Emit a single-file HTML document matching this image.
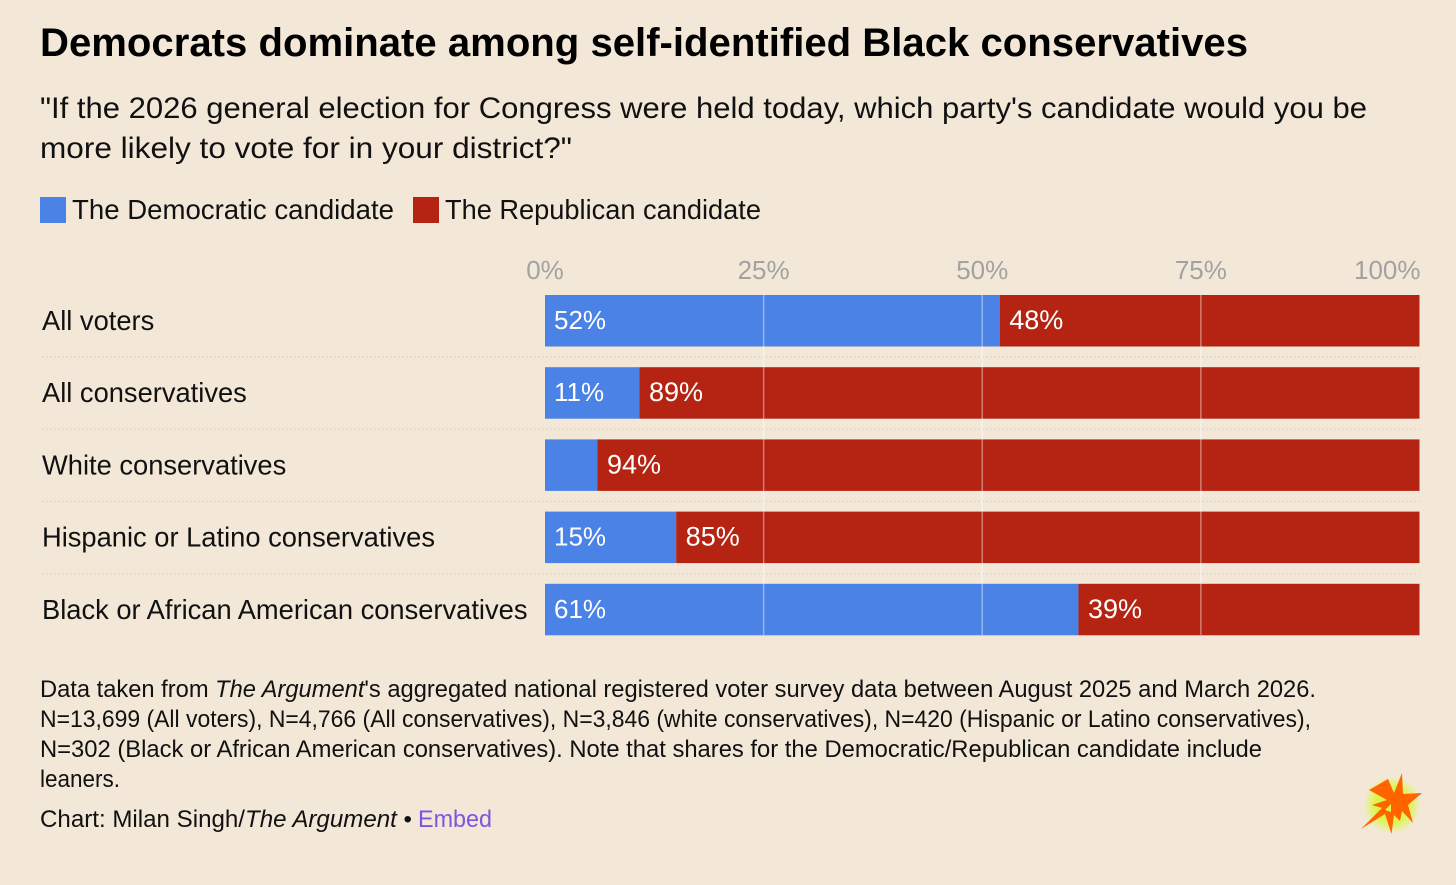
<!DOCTYPE html>
<html><head><meta charset="utf-8">
<style>
html,body{margin:0;padding:0;background:#f3e8d8}
svg{display:block}
text{font-family:"Liberation Sans",sans-serif;fill:#111}
.foot{font-size:24px}
</style></head>
<body>
<svg id="root" width="1456" height="885" viewBox="0 0 1456 885" xmlns="http://www.w3.org/2000/svg">
<defs><radialGradient id="glow"><stop offset="0" stop-color="#d4f52a"/><stop offset="0.6" stop-color="#dcf550"/><stop offset="1" stop-color="#f3e8d8"/></radialGradient></defs>
<rect width="1456" height="885" fill="#f3e8d8"/>
<text x="40" y="56" font-size="40" font-weight="700" textLength="1208" lengthAdjust="spacingAndGlyphs" style="font-size:40px;font-weight:700;fill:#000">Democrats dominate among self-identified Black conservatives</text>
<text x="40" y="118" style="font-size:30px" textLength="1327" lengthAdjust="spacingAndGlyphs">"If the 2026 general election for Congress were held today, which party's candidate would you be</text>
<text x="40" y="158" style="font-size:30px" textLength="532" lengthAdjust="spacingAndGlyphs">more likely to vote for in your district?"</text>
<rect x="40" y="197" width="26" height="26" fill="#4a82e6"/>
<text x="72" y="219" style="font-size:28px" textLength="322" lengthAdjust="spacingAndGlyphs">The Democratic candidate</text>
<rect x="413" y="197" width="26" height="26" fill="#b52412"/>
<text x="445" y="219" style="font-size:28px" textLength="316" lengthAdjust="spacingAndGlyphs">The Republican candidate</text>
<g id="plot"></g>
<text class="foot" x="40" y="697" textLength="1276" lengthAdjust="spacingAndGlyphs">Data taken from <tspan font-style="italic">The Argument</tspan>'s aggregated national registered voter survey data between August 2025 and March 2026.</text>
<text class="foot" x="40" y="727" textLength="1271" lengthAdjust="spacingAndGlyphs">N=13,699 (All voters), N=4,766 (All conservatives), N=3,846 (white conservatives), N=420 (Hispanic or Latino conservatives),</text>
<text class="foot" x="40" y="757" textLength="1222" lengthAdjust="spacingAndGlyphs">N=302 (Black or African American conservatives). Note that shares for the Democratic/Republican candidate include</text>
<text class="foot" x="40" y="787" textLength="80" lengthAdjust="spacingAndGlyphs">leaners.</text>
<text class="foot" x="40" y="827" textLength="372" lengthAdjust="spacingAndGlyphs">Chart: Milan Singh/<tspan font-style="italic">The Argument</tspan> •</text>
<text class="foot" x="418" y="827" textLength="74" lengthAdjust="spacingAndGlyphs" style="fill:#7f55e0;cursor:pointer">Embed</text>
<g>
<circle cx="1392" cy="805" r="29" fill="url(#glow)"/>
<polygon fill="#ff6400" points="1388,779 1394,793 1402,773 1403,794 1422,793 1408,805 1413,823 1402,811 1400,821 1394,815 1391.5,834 1385,814 1361,829 1382,808 1372,805 1387,800 1369,790"/>
<polygon fill="#dcf550" points="1391,804 1391,812 1385,810"/>
</g>
</svg>
<script>
const categories = ['All voters','All conservatives','White conservatives','Hispanic or Latino conservatives','Black or African American conservatives'];
const democratic = [52, 10.8, 6, 15, 61];
const republican = [48, 89.2, 94, 85, 39];
const ticks = [0, 25, 50, 75, 100];
const tickLabels = ['0%','25%','50%','75%','100%'];

const NS = 'http://www.w3.org/2000/svg';
const plot = document.getElementById('plot');
const xScale = v => 545 + v / 100 * 874.5;
const yScale = i => 295 + i * 72.2;
const barH = 51.5;
function add(tag, attrs, text) {
  const el = document.createElementNS(NS, tag);
  for (const k in attrs) el.setAttribute(k, attrs[k]);
  if (text !== undefined) el.textContent = text;
  plot.appendChild(el);
  return el;
}
ticks.forEach((t, i) => {
  const anchor = i === ticks.length - 1 ? 'end' : 'middle';
  const label = add('text', {x: i === ticks.length - 1 ? xScale(t) + 1 : xScale(t), y: 279, 'text-anchor': anchor, style: 'font-size:26px;fill:#a2a2a0'}, tickLabels[i]);
  
  
});
categories.forEach((c, i) => {
  const y = yScale(i);
  const name = add('text', {x: 42, y: y + 35, style: 'font-size:27.3px'}, c);
  
  
  if (i < categories.length - 1) {
    const sep = add('line', {x1: 42, x2: 1419.5, y1: y + 62, y2: y + 62, stroke: '#e0d8cc', 'stroke-width': 1.5, 'stroke-dasharray': '2 2'});
    
    
  }
  const d = add('rect', {x: xScale(0), y: y, width: xScale(democratic[i]) - xScale(0), height: barH, fill: '#4a82e6'});
  
  
  const r = add('rect', {x: xScale(democratic[i]), y: y, width: xScale(democratic[i] + republican[i]) - xScale(democratic[i]), height: barH, fill: '#b52412'});
  
  
});
ticks.slice(1, 4).forEach(t => {
  const g = add('line', {x1: xScale(t), x2: xScale(t), y1: 295, y2: 635, stroke: '#fff', 'stroke-opacity': 0.4, 'stroke-width': 1.5});
  
  
});
categories.forEach((c, i) => {
  const y = yScale(i);
  if (democratic[i] >= 10) {
    const a = add('text', {x: xScale(0) + 9, y: y + 34, style: 'font-size:26px;fill:#fff'}, Math.round(democratic[i]) + '%');
    
    
  }
  if (republican[i] >= 10) {
    const b = add('text', {x: xScale(democratic[i]) + 9.5, y: y + 34, style: 'font-size:27px;fill:#fff'}, Math.round(republican[i]) + '%');
    
    
  }
});
</script>
</body></html>
